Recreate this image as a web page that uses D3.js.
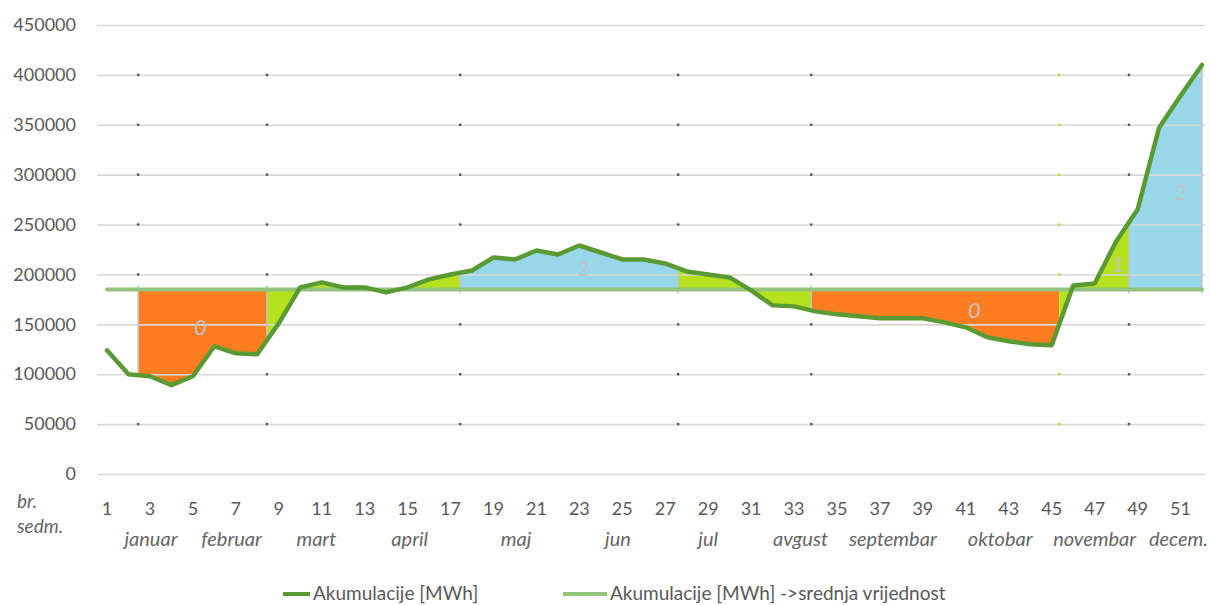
<!DOCTYPE html>
<html>
<head>
<meta charset="utf-8">
<script src="https://cdn.jsdelivr.net/npm/d3@7/dist/d3.min.js"></script>
<style>
  html, body { margin: 0; padding: 0; background: #ffffff; }
  svg { display: block; font-family: Lato, "Open Sans", "Liberation Sans", sans-serif; }
</style>
</head>
<body>
<svg id="chart" width="1210" height="605"></svg>
<script>
// Weekly reservoir storage, weeks 1..52 (MWh)
const storage = [
  124000, 100000,  98000,  89000,  98000, 128000, 121000, 120000, 151000, 187000,
  192000, 187000, 187000, 182000, 187000, 195000, 200000, 204000, 217000, 215000,
  224000, 220000, 229000, 222000, 215000, 215000, 211000, 203000, 200000, 197000,
  184000, 169000, 168000, 163000, 160000, 158000, 156000, 156000, 156000, 152000,
  147000, 137000, 133000, 130000, 129000, 189000, 191000, 233000, 265000, 347000,
  379000, 410000
];

// Yearly average of the series above
const storageMean = 185000;

// Shaded bands: week boundaries and band class (0 = below, 1 = near, 2 = above)
const bandBreaks = [2.45, 8.45, 17.45, 27.6, 33.8, 45.35, 48.6, 52];
const bandClass = [0, 1, 2, 1, 0, 1, 2];
const bandLabelWeek = [5.35, null, 23.2, null, 41.4, 48.1, 51.0];

// Axis ticks and category labels
const yTicks = [0, 50000, 100000, 150000, 200000, 250000, 300000, 350000, 400000, 450000];
const weekTicks = [1, 3, 5, 7, 9, 11, 13, 15, 17, 19, 21, 23, 25, 27, 29, 31, 33, 35, 37, 39, 41, 43, 45, 47, 49, 51];
const months = ["januar", "februar", "mart", "april", "maj", "jun", "jul", "avgust", "septembar", "oktobar", "novembar", "decem."];
const monthCentreWeek = [3.05, 6.8, 10.75, 15.1, 20.05, 24.8, 29.0, 33.3, 37.6, 42.6, 47.0, 50.9];

const seriesNames = ["Akumulacije [MWh]", "Akumulacije [MWh] ->srednja vrijednost"];

// ---- layout & styles ----
const plot = { left: 97, right: 1205, top: 25, bottom: 474 };
const colors = {
  line: "#5a9a32",
  mean: "#93c47d",
  grid: "#d9d9d9",
  text: "#595959",
  bands: ["#fd7e21", "#b4e21e", "#96d7ea"]
};

const weeks = storage.map((_, i) => i + 1);
const svg = d3.select("#chart");

const x = d3.scaleLinear().domain([1, 52]).range([107, 1202]);
const y = d3.scaleLinear().domain([0, 450000]).range([plot.bottom, plot.top]);

// linear interpolation of storage at a fractional week
function storageAt(w) {
  const idx = Math.max(0, Math.min(storage.length - 1, w - 1));
  const lo = Math.floor(idx);
  const hi = Math.min(lo + 1, storage.length - 1);
  return storage[lo] + (storage[hi] - storage[lo]) * (idx - lo);
}

// ---- shaded bands between the mean and the series ----
const bandArea = d3.area()
  .x(d => x(d))
  .y0(y(storageMean))
  .y1(d => y(storageAt(d)));

const bands = bandClass.map((c, i) => {
  const a = bandBreaks[i], b = bandBreaks[i + 1];
  const pts = [a].concat(weeks.filter(w => w > a && w < b), [b]);
  return { cls: c, a, b, pts, labelWeek: bandLabelWeek[i] };
});

svg.append("g").selectAll("path")
  .data(bands)
  .join("path")
  .attr("d", d => bandArea(d.pts))
  .attr("fill", d => colors.bands[d.cls]);

// ---- y axis with gridlines (drawn over the bands) ----
const yAxis = d3.axisLeft(y)
  .tickValues(yTicks)
  .tickFormat(d3.format("d"))
  .tickSizeInner(-(plot.right - plot.left))
  .tickSizeOuter(0)
  .tickPadding(21);

const gy = svg.append("g")
  .attr("transform", `translate(${plot.left},0)`)
  .call(yAxis);
gy.select(".domain").remove();
gy.selectAll(".tick line").attr("stroke", colors.grid).attr("stroke-width", 1.6);
gy.selectAll(".tick text")
  .attr("fill", colors.text)
  .style("font-size", "18px")
  .style("font-family", "Lato, 'Open Sans', sans-serif");

// ---- small markers where band boundaries meet gridlines ----
const boundaryMarks = [];
bandBreaks.slice(0, -1).forEach((w, i) => {
  const v = storageAt(w);
  const lo = Math.min(v, storageMean), hi = Math.max(v, storageMean);
  yTicks.filter(t => t > 0 && t < 450000 && (t < lo || t > hi)).forEach(t => {
    boundaryMarks.push({ w, t, green: bandClass[i] === 1 && i > 0 && bandClass[i - 1] === 0 && w > 40 });
  });
});
svg.append("g").selectAll("rect")
  .data(boundaryMarks)
  .join("rect")
  .attr("x", d => x(d.w) - 1.2)
  .attr("y", d => y(d.t) - 1.2)
  .attr("width", 2.4)
  .attr("height", 2.4)
  .attr("fill", d => d.green ? "#b4e21e" : "#555555");

// ---- vertical separators inside the bands ----
svg.append("g").selectAll("line")
  .data(bandBreaks.filter(w => w < 45 || w > 46))
  .join("line")
  .attr("x1", d => x(d))
  .attr("x2", d => x(d))
  .attr("y1", d => y(storageAt(d)))
  .attr("y2", d => y(storageMean) + (storageAt(d) > storageMean ? 4 : -4))
  .attr("stroke", "#c4c4c4")
  .attr("stroke-width", 1.5);

// ---- mean line ----
const meanLine = d3.line().x(d => x(d)).y(() => y(storageMean));
svg.append("path")
  .attr("d", meanLine([weeks[0], weeks[weeks.length - 1]]))
  .attr("fill", "none")
  .attr("stroke", colors.mean)
  .attr("stroke-width", 4)
  .attr("stroke-linecap", "round");

// ---- storage line ----
const storageLine = d3.line().x((d, i) => x(weeks[i])).y(d => y(d));
svg.append("path")
  .attr("d", storageLine(storage))
  .attr("fill", "none")
  .attr("stroke", colors.line)
  .attr("stroke-width", 4.5)
  .attr("stroke-linejoin", "round")
  .attr("stroke-linecap", "round");

// ---- band class labels ----
svg.append("g").selectAll("text")
  .data(bands.filter(d => d.labelWeek !== null))
  .join("text")
  .attr("x", d => x(d.labelWeek))
  .attr("y", d => y((storageAt(d.labelWeek) + storageMean) / 2))
  .attr("dy", "0.35em")
  .attr("text-anchor", "middle")
  .attr("fill", "#c2c2c2")
  .style("font-size", "22px")
  .style("font-style", "italic")
  .text(d => d.cls);

// ---- x axis: week numbers and months ----
const xLabels = svg.append("g").attr("fill", colors.text);
xLabels.selectAll("text.week")
  .data(weekTicks)
  .join("text")
  .attr("class", "week")
  .attr("x", d => x(d))
  .attr("y", 515)
  .attr("text-anchor", "middle")
  .style("font-size", "18px")
  .text(d => d);

xLabels.selectAll("text.month")
  .data(months)
  .join("text")
  .attr("class", "month")
  .attr("x", (d, i) => x(monthCentreWeek[i]))
  .attr("y", 546)
  .attr("text-anchor", "middle")
  .attr("fill", "#666666")
  .style("font-size", "20px")
  .style("font-style", "italic")
  .text(d => d);

xLabels.append("text")
  .attr("x", 17).attr("y", 508)
  .attr("fill", "#666666")
  .style("font-size", "19px").style("font-style", "italic")
  .text("br.");
xLabels.append("text")
  .attr("x", 17).attr("y", 533)
  .attr("fill", "#666666")
  .style("font-size", "19px").style("font-style", "italic")
  .text("sedm.");

// ---- legend ----
const legendItems = [
  { name: seriesNames[0], color: colors.line, x0: 283, x1: 310, tx: 313 },
  { name: seriesNames[1], color: colors.mean, x0: 563, x1: 607, tx: 610 }
];
const lg = svg.append("g");
legendItems.forEach(it => {
  lg.append("line")
    .attr("x1", it.x0).attr("x2", it.x1)
    .attr("y1", 594).attr("y2", 594)
    .attr("stroke", it.color).attr("stroke-width", 4);
  lg.append("text")
    .attr("x", it.tx).attr("y", 600)
    .attr("fill", colors.text)
    .style("font-size", "19px")
    .text(it.name);
});
</script>
</body>
</html>
